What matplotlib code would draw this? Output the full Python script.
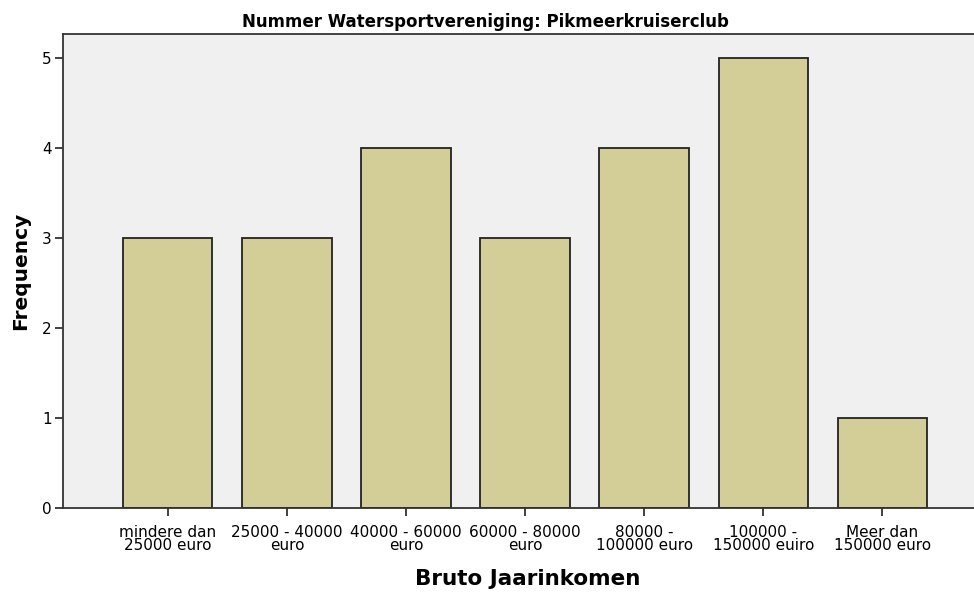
import matplotlib
matplotlib.use("Agg")
import matplotlib.pyplot as plt

# Datos
categorias = ["mindere dan\n25000 euro", "25000 - 40000\neuro", "40000 - 60000\neuro",
              "60000 - 80000\neuro", "80000 -\n100000 euro", "100000 -\n150000 euiro",
              "Meer dan\n150000 euro"]
frecuencias = [3, 3, 4, 3, 4, 5, 1]
yticks = [0, 1, 2, 3, 4, 5]

plt.rcParams['font.family'] = ['DejaVu Sans']

fig = plt.figure(figsize=(9.74, 5.92), dpi=100)
ax = fig.add_axes([0.0647, 0.1419, 0.9353, 0.8007])
ax.set_facecolor("#F0F0F0")

x = list(range(len(categorias)))
ax.bar(x, frecuencias, width=0.75, color="#D3CE97", edgecolor="#222222", linewidth=1.3, zorder=2)

ax.set_xlim(-0.88, 6.77)
ax.set_ylim(0, 5.27)
ax.set_yticks(yticks)
ax.set_xticks(x)
ax.set_xticklabels(categorias, fontsize=11, linespacing=0.9)
ax.tick_params(axis="both", direction="out", length=6, width=1.3, color="#333333", labelsize=11)
ax.tick_params(axis="x", pad=6)
ax.tick_params(axis="y", pad=2)

for lado in ["left", "bottom", "top"]:
    ax.spines[lado].set_linewidth(1.3)
    ax.spines[lado].set_color("#333333")
ax.spines["right"].set_visible(False)

ax.set_ylabel("Frequency", fontsize=14.5, fontweight="bold", labelpad=9)
ax.set_xlabel("Bruto Jaarinkomen", fontsize=15.5, fontweight="bold", labelpad=11, x=0.51)
ax.set_title("Nummer Watersportvereniging: Pikmeerkruiserclub", fontsize=12, fontweight="bold",
             pad=5, x=0.464)

fig.savefig("out.png", dpi=100)
